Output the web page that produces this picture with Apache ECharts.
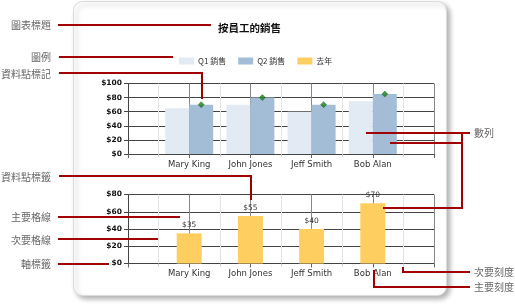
<!DOCTYPE html>
<html><head><meta charset="utf-8">
<script src="https://cdn.jsdelivr.net/npm/echarts@6/dist/echarts.min.js"></script>
<style>html,body{margin:0;padding:0;background:#fff}#c{width:515px;height:304px}</style>
</head><body><div id="c"></div>
<script>
const employees = ['Mary King', 'John Jones', 'Jeff Smith', 'Bob Alan'];
const q1Sales = [65, 70, 60, 75];
const q2Sales = [70, 80, 70, 85];
const lastYear = [35, 55, 40, 70];
const seriesNames = ['Q1 銷售', 'Q2 銷售', '去年'];
const chartTitle = '按員工的銷售';
const topAxisMax = 100, bottomAxisMax = 80, axisStep = 20;

const ANN = '#a00000';
const LBL = '#666';
const CJK = '"Noto Sans CJK TC", "Noto Sans CJK SC", sans-serif';

function xAxisCfg(gridIndex) {
  return {
    type: 'value', gridIndex, min: 0, max: employees.length + 1, interval: 1,
    axisLine: { show: true, lineStyle: { color: '#444', width: 1 } },
    axisTick: { show: true, length: 4, lineStyle: { color: '#666' } },
    minorTick: { show: true, splitNumber: 2, length: 3, lineStyle: { color: '#ccc' } },
    splitLine: { show: true, lineStyle: { color: '#888', width: 1 } },
    minorSplitLine: { show: true, lineStyle: { color: '#e4e4e4', width: 1 } },
    axisLabel: {
      margin: 6, fontSize: 8.5, color: '#333', fontFamily: 'DejaVu Sans',
      formatter: v => employees[v - 1] || ''
    }
  };
}
function yAxisCfg(gridIndex, max) {
  return {
    type: 'value', gridIndex, min: 0, max, interval: axisStep,
    axisLine: { show: true, lineStyle: { color: '#444', width: 1 } },
    axisTick: { show: true, length: 4, lineStyle: { color: '#444' } },
    splitLine: { show: true, lineStyle: { color: '#444', width: 1 } },
    axisLabel: {
      margin: 6, fontSize: 7.5, fontWeight: 'bold', color: '#111', fontFamily: 'DejaVu Sans',
      formatter: v => '$' + v
    }
  };
}

const lineEl = (pts) => ({
  type: 'polyline', z: 100, silent: true,
  shape: { points: pts },
  style: { stroke: ANN, lineWidth: 2, fill: null }
});
const leftLabel = (text, y) => ({
  type: 'text', z: 100, x: 51, y,
  style: { text, fill: LBL, font: '10px ' + CJK, align: 'right', verticalAlign: 'middle' }
});
const rightLabel = (text, y) => ({
  type: 'text', z: 100, x: 474, y,
  style: { text, fill: LBL, font: '10px ' + CJK, align: 'left', verticalAlign: 'middle' }
});

const chart = echarts.init(document.getElementById('c'), null, { renderer: 'canvas' });
chart.setOption({
  animation: false,
  backgroundColor: '#fff',
  title: {
    text: chartTitle, left: 213, top: 18,
    textStyle: { fontSize: 10.5, fontWeight: 'bold', color: '#111', fontFamily: CJK }
  },
  legend: {
    data: seriesNames, left: 174, top: 52, icon: 'rect',
    itemWidth: 15, itemHeight: 7, itemGap: 12,
    textStyle: { fontSize: 8, color: '#333', fontFamily: CJK, padding: [0, 0, 0, -1] }
  },
  grid: [
    { left: 128, top: 83.5, width: 306, height: 70.5, containLabel: false },
    { left: 128, top: 194.5, width: 306, height: 69, containLabel: false }
  ],
  xAxis: [xAxisCfg(0), xAxisCfg(1)],
  yAxis: [yAxisCfg(0, topAxisMax), yAxisCfg(1, bottomAxisMax)],
  series: [
    {
      name: seriesNames[0], type: 'bar', xAxisIndex: 0, yAxisIndex: 0,
      barWidth: 24, barGap: '0%', itemStyle: { color: '#e2eaf4' },
      data: q1Sales.map((v, i) => [i + 1, v])
    },
    {
      name: seriesNames[1], type: 'bar', xAxisIndex: 0, yAxisIndex: 0,
      barWidth: 24, barGap: '0%', itemStyle: { color: '#a3bdd7' },
      data: q2Sales.map((v, i) => [i + 1, v])
    },
    {
      name: 'marker', type: 'scatter', xAxisIndex: 0, yAxisIndex: 0,
      symbol: 'diamond', symbolSize: 6, symbolOffset: [12, 0], z: 5,
      itemStyle: { color: '#1a7f1a', borderColor: '#0c5a0c', borderWidth: 0.5 },
      data: q2Sales.map((v, i) => [i + 1, v])
    },
    {
      name: seriesNames[2], type: 'bar', xAxisIndex: 1, yAxisIndex: 1,
      barWidth: 25, itemStyle: { color: '#fecf60' },
      label: {
        show: true, position: 'top', distance: 4, fontSize: 7.5, color: '#333',
        fontFamily: 'DejaVu Sans', formatter: p => '$' + p.value[1]
      },
      data: lastYear.map((v, i) => [i + 1, v])
    }
  ],
  graphic: [
    {
      type: 'rect', z: -10, silent: true,
      shape: { x: 73.5, y: 1.5, width: 373, height: 294, r: 9 },
      style: { fill: '#fff', stroke: '#dcdcdc', lineWidth: 1,
        shadowBlur: 5, shadowOffsetX: 3, shadowOffsetY: 3, shadowColor: 'rgba(0,0,0,0.3)' }
    },
    leftLabel('圖表標題', 25), lineEl([[58, 25], [211, 25]]),
    leftLabel('圖例', 57), lineEl([[59, 57], [173, 57]]),
    leftLabel('資料點標記', 74), lineEl([[59, 73], [202, 73], [202, 99]]),
    leftLabel('資料點標籤', 177), lineEl([[59, 176], [251, 176], [251, 200]]),
    leftLabel('主要格線', 217), lineEl([[58, 217], [180, 217]]),
    leftLabel('次要格線', 240), lineEl([[58, 239], [158, 239]]),
    leftLabel('軸標籤', 264), lineEl([[58, 264], [109, 264]]),
    rightLabel('數列', 133),
    lineEl([[366, 133], [470, 133]]),
    lineEl([[390, 143], [462, 143]]),
    lineEl([[462, 133], [462, 208], [383, 208]]),
    rightLabel('次要刻度', 272), lineEl([[403, 267], [403, 272], [470, 272]]),
    rightLabel('主要刻度', 287), lineEl([[374, 270], [374, 287], [470, 287]])
  ]
});
</script></body></html>
